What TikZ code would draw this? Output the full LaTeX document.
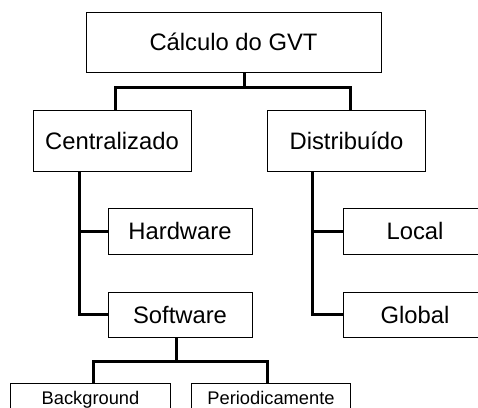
\documentclass[tikz,border=0pt]{standalone}
\usepackage{fontspec}
\setmainfont{Liberation Sans}
\begin{document}
\begin{tikzpicture}[x=1pt,y=1pt,
  box/.style={draw=black, line width=1pt, rectangle, inner sep=0pt, font=\fontsize{23.8}{28}\selectfont},
  smallbox/.style={draw=black, line width=1pt, rectangle, inner xsep=0pt, inner ysep=7pt,
     text height=13.5pt, text depth=20pt, font=\fontsize{18.3}{22}\selectfont},
  conn/.style={line width=3pt, line join=miter}]
\useasboundingbox (0,0) rectangle (478,-407);
\clip (0,0) rectangle (478,-407);
\node[box, minimum width=295pt, minimum height=60pt] (top) at (233.5,-42) {Cálculo do GVT};
\node[box, minimum width=158pt, minimum height=61pt] (cent) at (112,-140.5) {Centralizado};
\node[box, minimum width=158pt, minimum height=61pt] (dist) at (346.5,-140.5) {Distribuído};
\node[box, minimum width=144pt, minimum height=46pt] (hard) at (180,-231) {Hardware};
\node[box, minimum width=144pt, minimum height=45pt] (soft) at (180,-314.5) {Software};
\node[box, minimum width=144pt, minimum height=46pt] (local) at (415,-231) {Local};
\node[box, minimum width=144pt, minimum height=45pt] (global) at (415,-314.5) {Global};
\node[smallbox, anchor=north west, minimum width=160pt] (bg) at (10,-383) {Background};
\node[smallbox, anchor=north west, minimum width=159pt] (per) at (191,-383) {Periodicamente};
\draw[conn] ([xshift=11pt]top.south) -- ++(0,-14.5) -| ([xshift=3pt]cent.north);
\draw[conn] ([xshift=11pt]top.south) -- ++(0,-14.5) -| ([xshift=3.5pt]dist.north);
\coordinate (cv) at ([xshift=-33pt]cent.south);
\draw[conn] (cv) |- (soft.west);
\draw[conn] (cv |- hard.west) -- (hard.west);
\coordinate (dv) at ([xshift=-34.5pt]dist.south);
\draw[conn] (dv) |- (global.west);
\draw[conn] (dv |- local.west) -- (local.west);
\draw[conn] ([xshift=-4pt]soft.south) -- ++(0,-24) -| ([xshift=3pt]bg.north);
\draw[conn] ([xshift=-4pt]soft.south) -- ++(0,-24) -| ([xshift=-3.5pt]per.north);
\end{tikzpicture}
\end{document}
